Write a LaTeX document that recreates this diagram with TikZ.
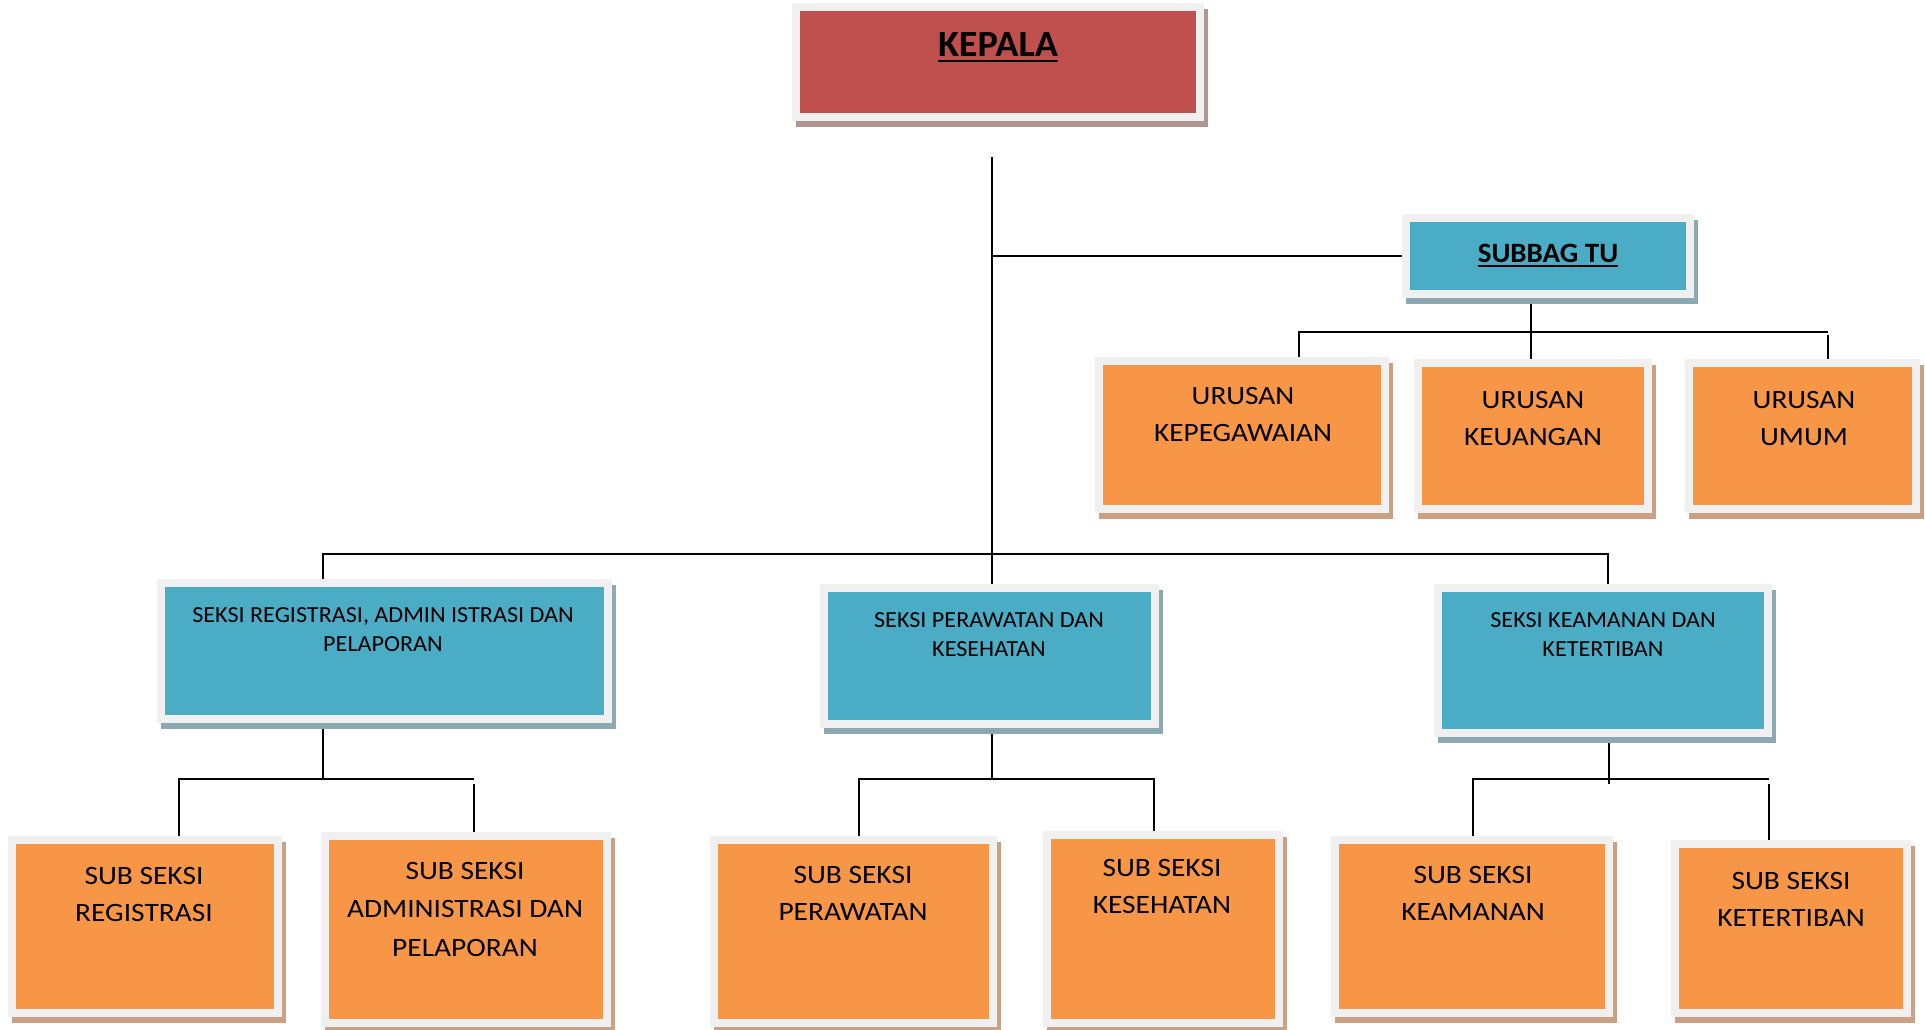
\documentclass[tikz,border=0pt]{standalone}
\usepackage{fontspec}
\setmainfont{Carlito}
\newfontfamily\wideA[FakeStretch=1.11]{Carlito}
\newfontfamily\wideB[FakeStretch=1.05]{Carlito}
\newfontfamily\wideC[FakeStretch=1.035]{Carlito}
\usetikzlibrary{shadows,backgrounds}
\definecolor{redfill}{HTML}{C0504D}
\definecolor{bluefill}{HTML}{4BACC6}
\definecolor{orangefill}{HTML}{F79646}
\definecolor{framegray}{HTML}{F0F0F0}
\definecolor{redshadow}{HTML}{B39494}
\definecolor{blueshadow}{HTML}{8CA9B3}
\definecolor{orangeshadow}{HTML}{CCA183}
\newcommand\myul[2]{\setbox0\hbox{#2}\rlap{\raisebox{-#1}{\rule{\wd0}{2.6pt}}}\box0}
\begin{document}
\begin{tikzpicture}[x=1pt,y=-1pt,
  conn/.style={draw=black, line width=1.8pt},
  boxbase/.style={rectangle, inner sep=0pt, outer sep=0pt, fill=framegray, draw=none},
  innerfill/.style={path picture={\fill[#1] ([shift={(8pt,8pt)}]path picture bounding box.south west) rectangle ([shift={(-8pt,-8pt)}]path picture bounding box.north east);}},
  shadowcol/.style={drop shadow={shadow xshift=4pt, shadow yshift=-6pt, fill=#1, opacity=1}},
  redbox/.style={boxbase, innerfill=redfill, shadowcol=redshadow},
  bluebox/.style={boxbase, innerfill=bluefill, shadowcol=blueshadow},
  orangebox/.style={boxbase, innerfill=orangefill, shadowcol=orangeshadow},
  wh/.style 2 args={minimum width=#1pt, minimum height=#2pt},
  txt/.style={anchor=north, inner sep=0pt, align=center, text=black},
  seksitxt/.style={txt, font=\wideB\fontsize{23}{29}\selectfont},
  urtxt/.style={txt, font=\wideA\fontsize{26.4}{37}\selectfont},
  subtxt/.style={txt, font=\wideA\fontsize{26.5}{37.5}\selectfont}
]
\useasboundingbox (0,0) rectangle (1925,1029);

% boxes
\node[redbox, wh={412}{118}] (kepala) at (998,62) {};
\node[bluebox, wh={292}{84}] (subbag) at (1548,256) {};
\node[orangebox, wh={294}{156}] (peg) at (1242,435) {};
\node[orangebox, wh={238}{154}] (keu) at (1533,436) {};
\node[orangebox, wh={235}{154}] (umum) at (1802.5,436) {};
\node[bluebox, wh={455}{144}] (sreg) at (384.5,651) {};
\node[bluebox, wh={339}{144}] (sper) at (989.5,656) {};
\node[bluebox, wh={338}{153}] (skea) at (1603,660.5) {};
\node[orangebox, wh={274}{181}] (ssreg) at (145,926.5) {};
\node[orangebox, wh={290}{195}] (ssadm) at (466,929.5) {};
\node[orangebox, wh={287}{191}] (ssper) at (853.5,931.5) {};
\node[orangebox, wh={240}{196}] (sskes) at (1163,929) {};
\node[orangebox, wh={282}{181}] (sskea) at (1472,926.5) {};
\node[orangebox, wh={240}{177}] (ssket) at (1791,928.5) {};

% texts
\node[txt, font=\wideC\fontsize{37}{44}\selectfont\bfseries] (kepalaT) at (998,32.3) {\myul{6pt}{KEPALA}};
\node[txt, font=\wideC\fontsize{28}{34}\selectfont\bfseries] (subbagT) at (1548,244) {\myul{4.6pt}{SUBBAG TU}};
\node[urtxt] (pegT) at (1243,387) {URUSAN\\KEPEGAWAIAN};
\node[urtxt] (keuT) at (1533,391) {URUSAN\\KEUANGAN};
\node[urtxt] (umumT) at (1804,391) {URUSAN\\UMUM};
\node[seksitxt] (sregT) at (383,607) {SEKSI REGISTRASI, ADMIN ISTRASI DAN\\PELAPORAN};
\node[seksitxt] (sperT) at (989,612) {SEKSI PERAWATAN DAN\\KESEHATAN};
\node[seksitxt] (skeaT) at (1603,612) {SEKSI KEAMANAN DAN\\KETERTIBAN};
\node[subtxt] (ssregT) at (144,867) {SUB SEKSI\\REGISTRASI};
\node[subtxt, font=\wideA\fontsize{26.5}{38.5}\selectfont] (ssadmT) at (465,862) {SUB SEKSI\\ADMINISTRASI DAN\\PELAPORAN};
\node[subtxt] (ssperT) at (853,866) {SUB SEKSI\\PERAWATAN};
\node[subtxt] (sskesT) at (1162,859) {SUB SEKSI\\KESEHATAN};
\node[subtxt] (sskeaT) at (1473,866) {SUB SEKSI\\KEAMANAN};
\node[subtxt] (ssketT) at (1791,872) {SUB SEKSI\\KETERTIBAN};

% joints
\coordinate (trunkTop) at (992,157);
\coordinate (bL) at (323,554);
\coordinate (bR) at (1608,554);
\coordinate (tuX) at (1531,332);
\coordinate (uL) at (1299,332);
\coordinate (uR) at (1828,332);
\coordinate (rX) at (323,779);
\coordinate (rL) at (179,779);
\coordinate (rR) at (474,779);
\coordinate (pX) at (992,779);
\coordinate (pL) at (859,779);
\coordinate (pR) at (1154,779);
\coordinate (kX) at (1609,784);
\coordinate (kL) at (1473,779);
\coordinate (kR) at (1769,779);

\begin{scope}[on background layer]
\fill[white] (0,0) rectangle (1925,1029);
\draw[conn] (trunkTop) -- (trunkTop |- sper.north);
\draw[conn] (trunkTop |- subbag.west) -- (subbag.west);
\draw[conn] (bL |- sreg.north) -- (bL) -- (bR) -- (bR |- skea.north);
\draw[conn] (tuX |- subbag.south) -- (tuX |- keu.north);
\draw[conn] (uL |- peg.north) -- (uL) -- (uR);
\draw[conn] ([yshift=-3pt]uR) -- (uR |- umum.north);
\draw[conn] (rX |- sreg.south) -- (rX);
\draw[conn] (rL |- ssreg.north) -- (rL) -- (rR);
\draw[conn] ([yshift=-5pt]rR) -- (rR |- ssadm.north);
\draw[conn] (pX |- sper.south) -- (pX);
\draw[conn] (pL |- ssper.north) -- (pL) -- (pR) -- (pR |- sskes.north);
\draw[conn] (kX |- skea.south) -- (kX);
\draw[conn] (kL |- sskea.north) -- (kL) -- (kR);
\draw[conn] ([yshift=-5pt]kR) -- (kR |- ssket.north);
\end{scope}
\end{tikzpicture}
\end{document}
